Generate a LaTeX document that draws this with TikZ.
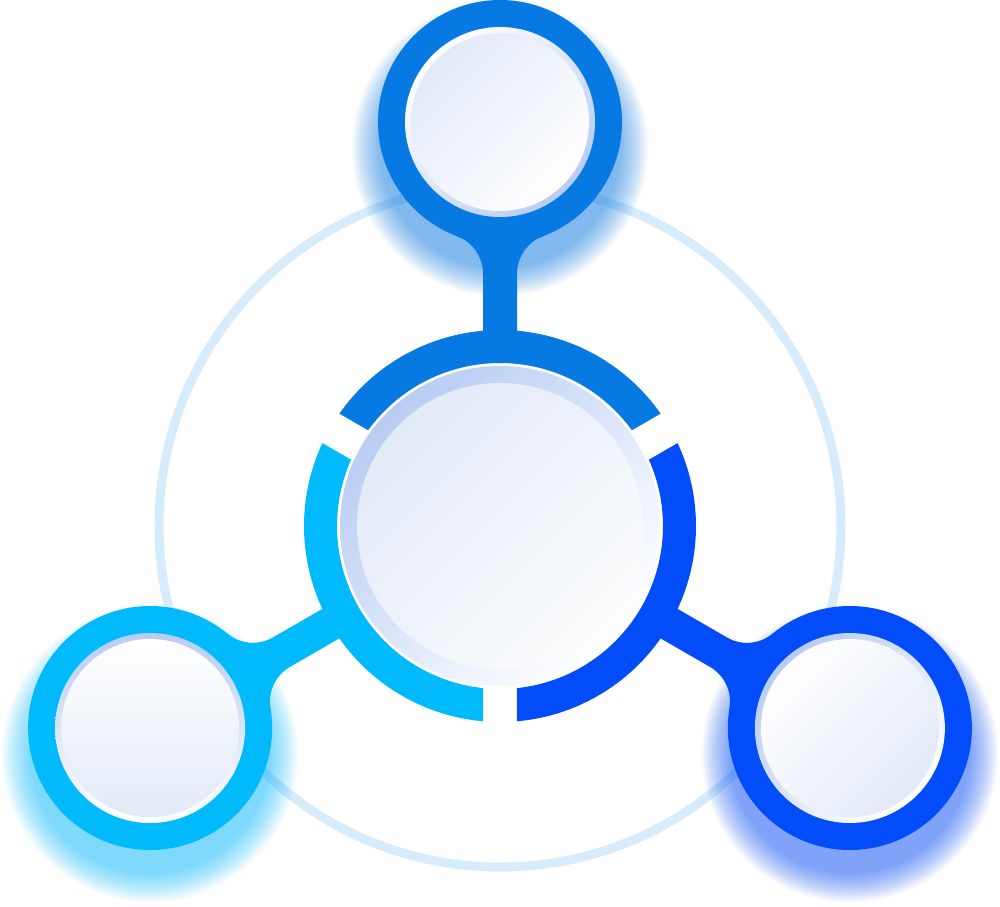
\documentclass[tikz,border=0pt]{standalone}
\definecolor{topblue}{RGB}{7,121,226}
\definecolor{leftcyan}{RGB}{1,186,252}
\definecolor{rightblue}{RGB}{2,77,249}
\definecolor{ringpale}{RGB}{214,236,251}
\definecolor{rimblue}{RGB}{184,204,243}
\definecolor{facetop}{RGB}{226,234,246}
\definecolor{facebot}{RGB}{251,252,253}

\begin{document}
\begin{tikzpicture}[x=1pt, y=1pt]
\useasboundingbox[fill=white] (-500,-380) rectangle (500,526);
\coordinate (hub) at (0,0);
\coordinate (top) at (90:404);
\coordinate (lft) at (210:404);
\coordinate (rgt) at (330:404);
\draw[ringpale, line width=9] (hub) circle (341);
\foreach \s/\c in {top/topblue, lft/leftcyan, rgt/rightblue}
  \foreach \k in {1,...,15}
    \fill[\c, opacity=0.045] ([yshift=-26pt]\s) circle (118+2*\k);
\pgfmathsetmacro\ao{asin(17/196)}
\pgfmathsetmacro\ai{asin(17/163)}
\foreach \a/\c in {30/topblue, 150/leftcyan, 270/rightblue}
  \fill[\c] (\a+\ao:196) arc[start angle=\a+\ao, end angle=\a+120-\ao, radius=196]
    -- (\a+120-\ai:163) arc[start angle=\a+120-\ai, end angle=\a+\ai, radius=163] -- cycle;
\foreach \s/\a/\c/\r in {top/90/topblue/-135, lft/210/leftcyan/0, rgt/330/rightblue/45}{
  \begin{scope}[shift={(\s)}, rotate=\a-90]
    \fill[\c] (42.9,-114.2) arc[start angle=110.7, end angle=180, radius=40] -- (17,-224)
      -- (-17,-224) -- (-17,-151.6) arc[start angle=0, end angle=69.3, radius=40] -- cycle;
  \end{scope}
  \fill[\c] (\s) circle (122);
  \shade[top color=rimblue, bottom color=white, shading angle=\r] (\s) circle (95);
  \shade[top color=white, bottom color=facetop, shading angle=\r] (\s) circle (89);
}
\shade[top color=rimblue, bottom color=white, shading angle=45] (hub) circle (160);
\shade[top color=facetop, bottom color=facebot, shading angle=45] (hub) circle (143);
\end{tikzpicture}
\end{document}
